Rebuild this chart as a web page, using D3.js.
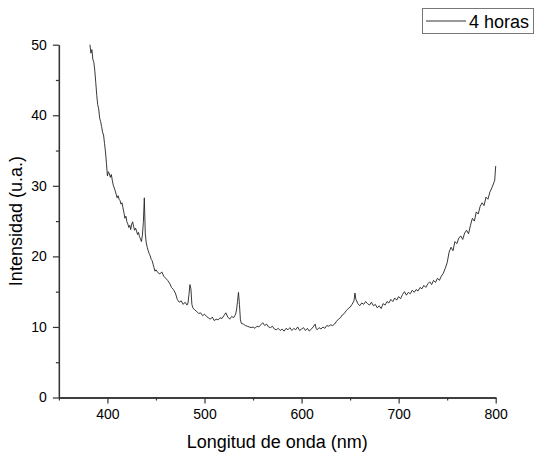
<!DOCTYPE html>
<html><head><meta charset="utf-8">
<script src="https://cdn.jsdelivr.net/npm/d3@7"></script>
<style>body{margin:0;background:#fff}svg{display:block}text{font-family:"Liberation Sans",Arial,sans-serif;fill:#000}</style>
</head><body><svg id="c" width="535" height="453"></svg>
<script>
const wavelength = [382,383,384,385,386,387,388,389,390,391,392,393,394,395,396,397,398,399,400,401,402,403,404,405,406,407,408,409,410,411,412,413,414,415,416,417,418,419,420,421,422,423,424,425,426,427,428,429,430,431,432,433,434,435,436,437,438,439,440,441,442,443,444,445,446,447,448,449,450,452,454,456,458,460,462,464,466,468,470,472,474,476,478,480,482,483,484,485,486,487,488,490,492,494,496,498,500,502,504,506,508,510,512,514,516,518,520,522,524,526,528,530,532,533,534,535,536,537,538,540,542,544,546,548,550,552,554,556,558,560,562,564,566,568,570,572,574,576,578,580,582,584,586,588,590,592,594,596,598,600,602,604,606,608,610,612,614,615,616,618,620,622,624,626,628,630,632,634,636,638,640,642,644,646,648,650,652,654,655,656,658,660,662,664,666,668,670,672,674,676,678,680,682,684,686,688,690,692,694,696,698,700,702,704,706,708,710,712,714,716,718,720,722,724,726,728,730,732,734,736,738,740,742,744,746,748,750,752,754,756,758,760,762,764,766,768,770,772,774,776,778,780,782,784,786,788,790,792,794,796,798,799,800];
const intensity = [50.0,48.8,49.3,47.9,47.5,46.3,44.6,42.8,41.5,40.9,39.6,39.1,38.4,37.6,37.2,36.0,34.8,33.2,31.4,32.0,31.7,31.2,31.6,30.8,30.1,29.7,29.3,28.8,28.3,28.6,28.1,27.9,27.4,27.6,26.9,26.2,25.4,25.7,24.9,24.6,24.1,24.4,23.8,24.6,24.9,24.2,23.7,24.0,23.6,23.1,23.4,22.8,22.5,22.1,23.0,24.8,28.3,23.2,21.9,21.3,20.8,20.4,20.1,19.6,19.4,18.9,18.4,17.9,18.1,17.7,17.5,17.8,17.2,16.9,16.6,16.2,15.6,15.3,14.8,13.9,13.5,13.7,13.2,13.5,13.1,13.4,14.6,16.0,15.4,13.2,12.7,12.4,12.2,11.9,12.0,11.6,11.8,11.5,11.3,11.1,11.4,10.9,11.1,11.0,11.3,11.2,11.6,12.0,11.4,11.1,11.5,11.3,11.8,12.4,13.6,14.9,13.2,11.0,10.5,10.4,10.2,10.1,10.0,9.9,10.0,9.8,10.1,10.0,10.3,10.6,10.2,10.4,10.0,9.9,10.1,9.7,9.6,9.8,9.5,9.7,9.4,9.8,9.6,9.9,9.5,9.8,9.6,10.0,9.5,9.7,9.9,9.5,9.8,9.4,9.7,10.0,10.4,9.8,9.6,9.9,9.7,10.0,9.8,10.2,10.1,10.3,10.2,10.4,10.8,11.1,11.3,11.7,11.9,12.3,12.6,12.8,13.2,13.7,14.8,13.9,13.3,13.0,13.4,13.2,13.6,13.3,13.1,13.5,13.0,13.2,12.7,13.0,12.6,13.3,13.1,13.6,13.4,13.9,13.6,14.1,13.8,14.3,14.0,14.6,15.0,14.5,14.9,14.7,15.2,14.9,15.3,15.1,15.6,15.4,15.9,15.6,16.1,16.4,16.0,16.6,16.3,16.9,16.6,17.2,17.6,18.3,19.1,20.6,21.3,20.8,22.1,21.8,22.6,22.9,22.4,23.3,23.7,23.2,24.4,25.4,25.0,26.3,26.0,27.1,27.6,27.2,28.4,28.1,29.1,29.7,30.4,30.8,32.8];
const xTicks = [400,500,600,700,800];
const yTicks = [0,10,20,30,40,50];
const seriesName = "4 horas";
const xTitle = "Longitud de onda (nm)";
const yTitle = "Intensidad (u.a.)";

const svg = d3.select("#c");
const L = 58.9, R = 495.7, B = 397.5, T = 44.7;
const x = d3.scaleLinear().domain([350,800]).range([L,R]);
const y = d3.scaleLinear().domain([0,50]).range([B,T]);
const axisColor = "#333";

// x axis
const xa = svg.append("g").attr("transform",`translate(0,${B})`)
  .call(d3.axisBottom(x).tickValues(xTicks).tickSize(6).tickSizeOuter(0).tickPadding(6).tickFormat(d3.format("d")));
const xm = svg.append("g").attr("transform",`translate(0,${B})`)
  .call(d3.axisBottom(x).tickValues([350,450,550,650,750]).tickSize(3).tickSizeOuter(0).tickFormat(""));
const ya = svg.append("g").attr("transform",`translate(${L},0)`)
  .call(d3.axisLeft(y).tickValues(yTicks).tickSize(6).tickSizeOuter(0).tickPadding(6).tickFormat(d3.format("d")));
const ym = svg.append("g").attr("transform",`translate(${L},0)`)
  .call(d3.axisLeft(y).tickValues([5,15,25,35,45]).tickSize(3).tickSizeOuter(0).tickFormat(""));
svg.selectAll(".domain").attr("stroke",axisColor).attr("stroke-width",1.3);
svg.selectAll(".tick line").attr("stroke",axisColor).attr("stroke-width",1.2);
svg.selectAll(".tick text").attr("font-size",14).attr("font-family","Liberation Sans, Arial, sans-serif").attr("fill","#000");

// line
const line = d3.line().x((d,i)=>x(wavelength[i])).y(d=>y(d));
svg.append("path").datum(intensity).attr("d",line).attr("fill","none").attr("stroke","#222").attr("stroke-width",0.9);

// titles
svg.append("text").attr("x",(L+R)/2).attr("y",447.5).attr("text-anchor","middle").attr("font-size",18).text(xTitle);
svg.append("text").attr("transform",`translate(22,${(T+B)/2}) rotate(-90)`).attr("text-anchor","middle").attr("font-size",18).text(yTitle);

// legend
const lg = svg.append("g");
lg.append("rect").attr("x",422.5).attr("y",8.5).attr("width",111).attr("height",25).attr("fill","#fff").attr("stroke","#777").attr("stroke-width",1);
lg.append("line").attr("x1",426).attr("x2",466).attr("y1",21).attr("y2",21).attr("stroke","#333").attr("stroke-width",1);
lg.append("text").attr("x",469).attr("y",27.5).attr("font-size",18).text(seriesName);
</script></body></html>
